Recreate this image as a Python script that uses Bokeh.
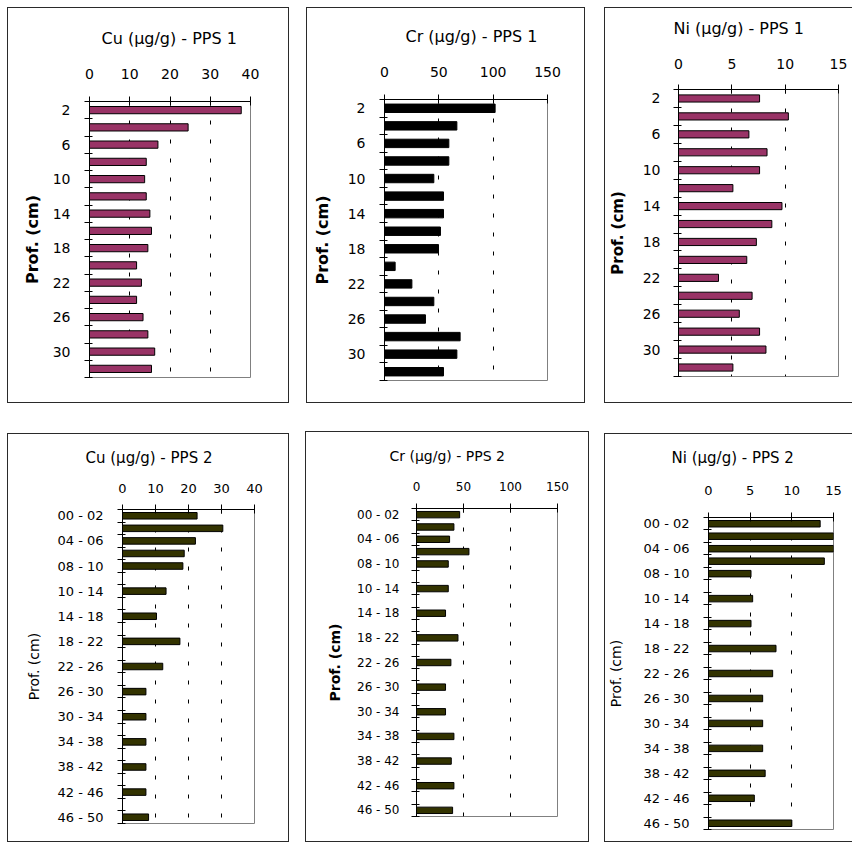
from bokeh.plotting import figure
from bokeh.layouts import row, column
from bokeh.models import Range1d, FixedTicker, ColumnDataSource
from bokeh.embed import file_html
from bokeh.resources import INLINE

# ---------------- data ----------------
# PPS 1 : depth (cm) of each sample
depth_pps1 = [2, 4, 6, 8, 10, 12, 14, 16, 18, 20, 22, 24, 26, 28, 30, 32]
cu_pps1 = [37.7, 24.5, 17.0, 14.1, 13.7, 14.1, 15.0, 15.4, 14.5, 11.7, 12.9, 11.7, 13.3, 14.5, 16.2, 15.4]
cr_pps1 = [101.8, 66.6, 59.2, 59.2, 45.4, 54.3, 54.3, 51.5, 49.7, 9.8, 25.2, 45.4, 37.7, 69.6, 66.6, 54.3]
ni_pps1 = [7.6, 10.3, 6.6, 8.3, 7.6, 5.1, 9.7, 8.75, 7.3, 6.4, 3.75, 6.9, 5.7, 7.6, 8.2, 5.1]

# PPS 2 : depth intervals (blank rows as in the source sheet)
depth_pps2 = ["00 - 02", "02 - 04", "04 - 06", "06 - 08", "08 - 10", "", "10 - 14", "",
              "14 - 18", "", "18 - 22", "", "22 - 26", "", "26 - 30", "", "30 - 34", "",
              "34 - 38", "", "38 - 42", "", "42 - 46", "", "46 - 50"]
cu_pps2 = [22.6, 30.4, 22.1, 18.7, 18.3, None, 13.2, None, 10.3, None, 17.4, None, 12.2, None,
           7.1, None, 7.1, None, 7.1, None, 7.1, None, 7.1, None, 7.9]
cr_pps2 = [45.9, 39.8, 35.2, 55.8, 33.8, None, 33.8, None, 30.9, None, 44.1, None, 36.6, None,
           30.9, None, 30.9, None, 39.8, None, 37.0, None, 39.8, None, 38.4]
ni_pps2 = [13.4, 15.2, 15.1, 13.9, 5.1, None, 5.3, None, 5.1, None, 8.1, None, 7.7, None,
           6.5, None, 6.5, None, 6.5, None, 6.8, None, 5.5, None, 10.0]

cu_ticks = [0, 10, 20, 30, 40]
cr_ticks = [0, 50, 100, 150]
ni_ticks = [0, 5, 10, 15]

FONT = "DejaVu Sans"
PURPLE = "#993366"
OLIVE = "#333300"


def panel(title, cats, vals, xticks, color, bar_h, fw, fh, mb, margin,
          title_size, title_offset, title_gap, tick_size, tick_standoff_x, tick_standoff_y,
          ylab_size, ylab_style, ylab_standoff):
    n = len(cats)
    p = figure(frame_width=fw, frame_height=fh,
               min_border_left=mb[0], min_border_right=mb[1],
               min_border_top=mb[2], min_border_bottom=mb[3],
               x_range=Range1d(xticks[0], xticks[-1]),
               y_range=Range1d(n - 0.5, -0.5),
               x_axis_location="above", y_axis_location="left",
               toolbar_location=None, output_backend="svg",
               background_fill_color="white", border_fill_color="white",
               margin=margin, frame_align=False,
               styles={"outline": "1px solid #2a2a2a"})

    p.title.text = title
    p.title.align = "left"
    p.title.offset = title_offset
    p.title.text_font = FONT
    p.title.text_font_size = f"{title_size}px"
    p.title.text_font_style = "normal"
    p.title.text_color = "black"
    try:
        p.title.padding = dict(left=0, right=0, top=0, bottom=title_gap)
        p.title.standoff = 0
    except Exception:
        p.title.standoff = 2 * title_gap

    idx = [i for i, v in enumerate(vals) if v is not None]
    src = ColumnDataSource(dict(y=idx, right=[vals[i] for i in idx]))
    p.hbar(y="y", left=0, right="right", height=bar_h, source=src,
           fill_color=color, line_color="black", line_width=1)

    xa = p.xaxis[0]
    xa.ticker = FixedTicker(ticks=xticks)
    xa.major_tick_in = 4
    xa.major_tick_out = 5
    xa.minor_tick_in = 0
    xa.minor_tick_out = 0
    xa.axis_line_color = "black"
    xa.major_tick_line_color = "black"
    xa.major_label_text_font = FONT
    xa.major_label_text_font_size = f"{tick_size}px"
    xa.major_label_text_color = "black"
    xa.major_label_standoff = tick_standoff_x

    lab_idx = [i for i in range(0, n, 2)]
    ya = p.yaxis[0]
    ya.ticker = FixedTicker(ticks=lab_idx, minor_ticks=[i - 0.5 for i in range(n + 1)])
    ya.major_label_overrides = {i: str(cats[i]) for i in lab_idx}
    ya.major_tick_in = 0
    ya.major_tick_out = 0
    ya.minor_tick_in = 3
    ya.minor_tick_out = 5
    ya.minor_tick_line_color = "black"
    ya.axis_line_color = "black"
    ya.major_label_text_font = FONT
    ya.major_label_text_font_size = f"{tick_size}px"
    ya.major_label_text_color = "black"
    ya.major_label_standoff = tick_standoff_y
    ya.axis_label = "Prof. (cm)"
    ya.axis_label_text_font = FONT
    ya.axis_label_text_font_size = f"{ylab_size}px"
    ya.axis_label_text_font_style = ylab_style
    ya.axis_label_text_color = "black"
    ya.axis_label_standoff = ylab_standoff

    p.xgrid.grid_line_color = "black"
    p.xgrid.grid_line_dash = "4 15"
    p.xgrid.grid_line_width = 1
    p.ygrid.visible = False
    p.outline_line_color = "#808080"
    p.outline_line_width = 1
    return p


p1 = panel("Cu (µg/g) - PPS 1", depth_pps1, cu_pps1, cu_ticks, PURPLE, 0.42,
           161, 276, (81, 38, 93, 25), (8, 0, 0, 8),
           16, 12, 18, 14, 18, 14, 16, "bold", 8)
p2 = panel("Cr (µg/g) - PPS 1", depth_pps1, cr_pps1, cr_ticks, "black", 0.48,
           163, 281, (77, 37, 91, 22), (8, 0, 0, 19),
           16, 21, 18, 14, 18, 14, 16, "bold", 13)
p3 = panel("Ni (µg/g) - PPS 1", depth_pps1, ni_pps1, ni_ticks, PURPLE, 0.40,
           160, 287, (67, 20, 81, 26), (8, 0, 0, 21),
           16, -5, 18, 14, 16, 13, 15, "bold", 13)
p4 = panel("Cu (µg/g) - PPS 2", depth_pps2, cu_pps2, cu_ticks, OLIVE, 0.52,
           132, 314, (114, 34, 75, 18), (32, 0, 0, 8),
           15, -37, 14, 13, 12, 14, 14, "normal", 12)
p5 = panel("Cr (µg/g) - PPS 2", depth_pps2, cr_pps2, cr_ticks, OLIVE, 0.52,
           141, 308, (110, 31, 76, 25), (30, 0, 0, 18),
           14, -27, 15, 12, 13, 12, 14, "bold", 11)
p6 = panel("Ni (µg/g) - PPS 2", depth_pps2, ni_pps2, ni_ticks, OLIVE, 0.52,
           125, 312, (101, 21, 83, 12), (32, 0, 0, 17),
           15, -37, 16, 13, 18, 14, 14, "normal", 16)

layout = column(row(p1, p2, p3), row(p4, p5, p6))
open("out.html", "w").write(file_html(layout, INLINE))
